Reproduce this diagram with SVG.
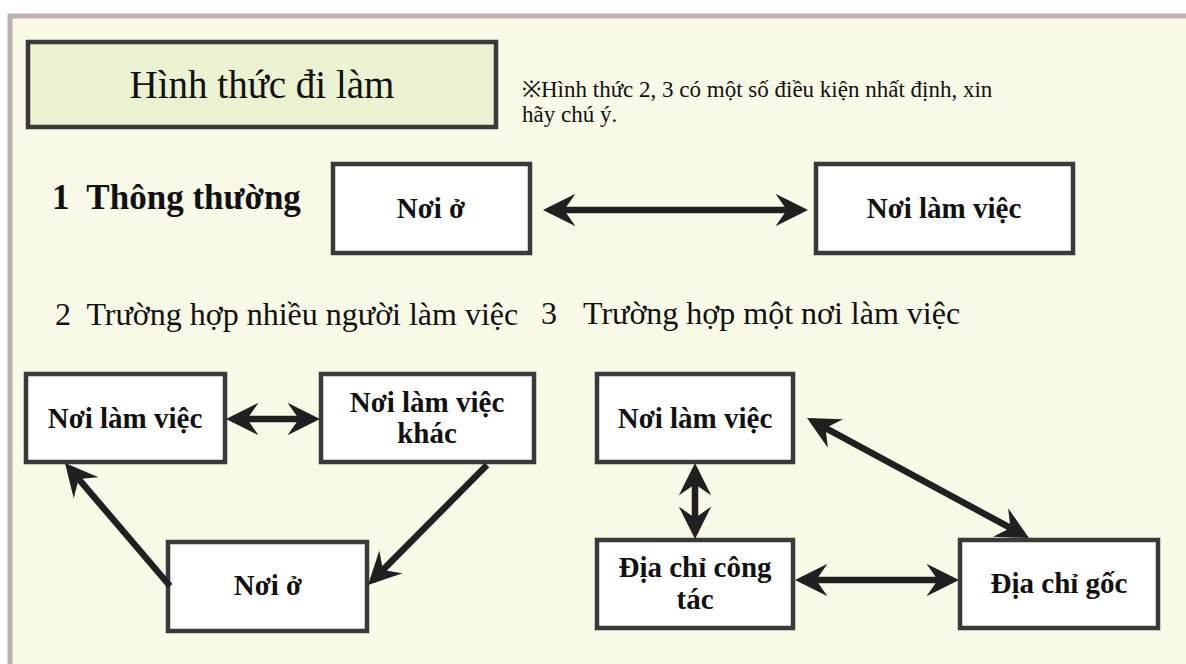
<svg xmlns="http://www.w3.org/2000/svg" width="1186" height="664" viewBox="0 0 1186 664">
<style>
.box{fill:#ffffff;stroke:#3a3a3a;stroke-width:4.5}
.bt{font-family:"Liberation Serif",serif;font-weight:bold;font-size:29px;fill:#111;text-anchor:middle}
.lbl{font-family:"Liberation Serif",serif;font-size:32px;fill:#111}
.conn{stroke:#231f20;stroke-width:6.5;fill:none}
</style>
<defs>
<marker id="ah" viewBox="0 0 20 20" refX="16" refY="10" markerWidth="5" markerHeight="5" orient="auto-start-reverse" markerUnits="strokeWidth">
<path d="M0,0 L20,10 L0,20 L7,10 Z" fill="#231f20"/>
</marker>
</defs>
<rect x="0" y="0" width="1186" height="664" fill="#ffffff"/>
<rect x="10" y="16" width="1200" height="700" fill="#f8f9e6" stroke="#bcb0ae" stroke-width="5"/>
<g id="title">
<rect x="28" y="42" width="468" height="85" fill="#eaf2d2" stroke="#3a3a3a" stroke-width="4.5"/>
<text x="262" y="98" font-family="Liberation Serif, serif" font-size="39" fill="#111" text-anchor="middle">Hình thức đi làm</text>
</g>
<g id="note">
<text x="522" y="97" font-family="Liberation Serif, serif" font-size="23" fill="#111">※Hình thức 2, 3 có một số điều kiện nhất định, xin</text>
<text x="522" y="122" font-family="Liberation Serif, serif" font-size="23" fill="#111">hãy chú ý.</text>
</g>
<g id="s1-label"><text x="52" y="209" font-family="Liberation Serif, serif" font-size="35" font-weight="bold" fill="#111" xml:space="preserve">1  Thông thường</text></g>
<g id="s2-label"><text class="lbl" x="55" y="325" xml:space="preserve">2  Trường hợp nhiều người làm việc</text></g>
<g id="s3-label"><text class="lbl" x="541" y="324">3</text><text class="lbl" x="583" y="324">Trường hợp một nơi làm việc</text></g>
<g id="n1-home"><rect class="box" x="333" y="164" width="197" height="89"/><text class="bt" x="431" y="218">Nơi ở</text></g>
<g id="n1-work"><rect class="box" x="816" y="164" width="257" height="89"/><text class="bt" x="944" y="218">Nơi làm việc</text></g>
<g id="n2-work"><rect class="box" x="26" y="374" width="199" height="88"/><text class="bt" x="125" y="428">Nơi làm việc</text></g>
<g id="n2-other"><rect class="box" x="321" y="374" width="213" height="88"/><text class="bt" x="427" y="412">Nơi làm việc</text><text class="bt" x="427" y="443">khác</text></g>
<g id="n2-home"><rect class="box" x="168" y="542" width="199" height="89"/><text class="bt" x="268" y="595">Nơi ở</text></g>
<g id="n3-work"><rect class="box" x="597" y="374" width="196" height="88"/><text class="bt" x="695" y="428">Nơi làm việc</text></g>
<g id="n3-biz"><rect class="box" x="597" y="540" width="196" height="88"/><text class="bt" x="695" y="577">Địa chỉ công</text><text class="bt" x="695" y="609">tác</text></g>
<g id="n3-origin"><rect class="box" x="960" y="540" width="198" height="88"/><text class="bt" x="1059" y="593">Địa chỉ gốc</text></g>
<g id="connectors">
<line class="conn" x1="549.5" y1="210" x2="801.5" y2="210" marker-start="url(#ah)" marker-end="url(#ah)"/>
<line class="conn" x1="232.5" y1="419" x2="313.5" y2="419" marker-start="url(#ah)" marker-end="url(#ah)"/>
<line class="conn" x1="170" y1="586" x2="69.2" y2="467.9" marker-end="url(#ah)"/>
<line class="conn" x1="487" y1="465" x2="372.6" y2="580.4" marker-end="url(#ah)"/>
<line class="conn" x1="695" y1="469.5" x2="695" y2="532.5" marker-start="url(#ah)" marker-end="url(#ah)"/>
<line class="conn" x1="801.5" y1="580" x2="952.5" y2="580" marker-start="url(#ah)" marker-end="url(#ah)"/>
<line class="conn" x1="812.7" y1="421.1" x2="1023.3" y2="534.9" marker-start="url(#ah)" marker-end="url(#ah)"/>
</g>
</svg>
